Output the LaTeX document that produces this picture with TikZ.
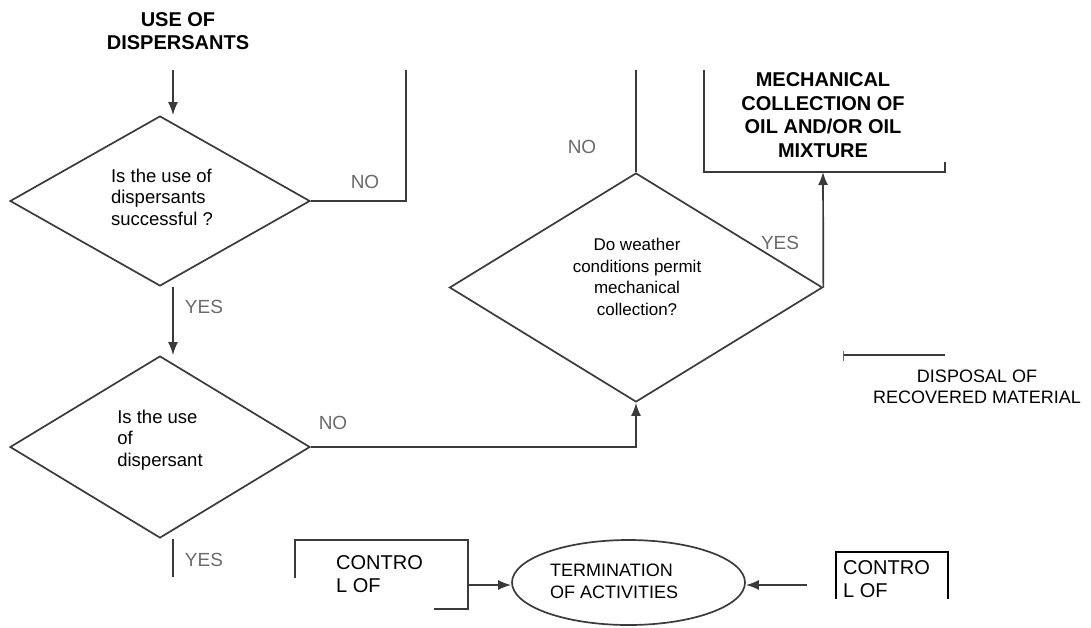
\documentclass[tikz,border=0pt]{standalone}
\usepackage{fontspec}
\setmainfont{Liberation Sans}
\usetikzlibrary{arrows.meta,positioning,shapes.geometric}
\definecolor{Ink}{HTML}{3A3A3A}
\definecolor{Faint}{HTML}{6A6A6A}
\tikzset{
  >={Latex[length=13pt,width=10pt]},
  dec/.style={diamond,draw=Ink,line width=1.7pt,inner sep=0pt,minimum width=300pt,minimum height=170pt},
  qtext/.style={font=\fontsize{18.5}{21.5}\selectfont,inner sep=0pt},
  titletxt/.style={font=\bfseries\fontsize{20}{23.5}\selectfont,align=center,inner sep=0pt},
  bodytxt/.style={font=\fontsize{18}{21.5}\selectfont,inner sep=0pt},
  ctltxt/.style={font=\fontsize{20}{23}\selectfont,inner sep=0pt,align=left,anchor=west},
  ans/.style={font=\fontsize{19}{20}\selectfont,text=Faint,inner sep=0pt},
  flow/.style={->,line width=1.7pt,draw=Ink},
  wire/.style={line width=1.7pt,draw=Ink},
  endstate/.style={ellipse,draw=Ink,line width=1.7pt,minimum width=233pt,minimum height=85pt,inner sep=0pt}
}
\begin{document}
\begin{tikzpicture}[x=1pt,y=-1pt]
  \useasboundingbox (0,0) rectangle (1091,627);

  % decisions
  \node[dec] (d1) at (160,201) {};
  \node[dec,minimum height=182pt] (d2) at (160,447) {};
  \node[dec,minimum width=373pt,minimum height=229pt] (d3) at (636,287.5) {};
  \node[qtext,align=left] (q1) at (162,197) {Is the use of\\dispersants\\successful ?};
  \node[qtext,align=left] (q2) at (160,440) {Is the use\\of\\dispersant};
  \node[qtext,font=\fontsize{17}{21.5}\selectfont,align=center] (q3) at (637,277) {Do weather\\conditions permit\\mechanical\\collection?};

  % headings
  \node[titletxt] (title) at (178,31) {USE OF\\DISPERSANTS};
  \node[titletxt] (mech) at (823,115) {MECHANICAL\\COLLECTION OF\\OIL AND/OR OIL\\MIXTURE};
  \draw[wire] (704,70) -- (704,172) -- (945,172) -- (945,162);

  % connectors
  \coordinate (in1) at (173,70);
  \coordinate (no1) at (406,70);
  \coordinate (no3) at (636,70);
  \coordinate (yes2) at (173,577);
  \coordinate (mechB) at (823,172);
  \draw[flow] (in1) -- (in1 |- d1.north);
  \draw[wire] (d1.east) -| (no1);
  \draw[flow] (d1.south -| in1) -- (d2.north -| in1);
  \draw[flow] (d2.east) -| (d3.south);
  \draw[wire] (d2.south -| in1) -- (yes2);
  \draw[wire] (d3.north) -- (no3);
  \draw[flow] (d3.east) -- (mechB);

  \node[ans] (no1l) at (365,182) {NO};
  \node[ans] (yes1l) at (204,307) {YES};
  \node[ans] (no2l) at (333,423) {NO};
  \node[ans] (yes2l) at (204,560) {YES};
  \node[ans] (no3l) at (582,147) {NO};
  \node[ans] (yes3l) at (780,243) {YES};

  % disposal
  \coordinate (disp) at (843,355);
  \draw[wire] (disp) -- +(102,0);
  \draw[line width=1pt,draw=Faint] ([yshift=4pt]disp) -- ([yshift=-6pt]disp);
  \node[bodytxt,align=center] (dispT) at (977,387) {DISPOSAL OF\\RECOVERED MATERIAL};

  % termination
  \node[endstate] (stop) at (628.5,582.5) {};
  \node[bodytxt,align=left,anchor=west] (stopT) at (550,581.5) {TERMINATION\\OF ACTIVITIES};

  \draw[wire] (295,578) -- (295,540) -- (468,540) -- (468,609) -- (434,609);
  \node[ctltxt] (ctlA) at (336,574) {CONTRO\\L OF};
  \coordinate (ctlAout) at (468,585);
  \draw[flow] (ctlAout) -- (ctlAout -| stop.west);

  \draw[line width=2.5pt] (836,599) -- (836,552) -- (948,552) -- (948,599);
  \begin{scope}
    \clip (836,552) rectangle (948,599);
    \node[ctltxt] (ctlB) at (843,579.5) {CONTRO\\L OF};
  \end{scope}
  \coordinate (ctlBout) at (807,585);
  \draw[flow] (ctlBout) -- (ctlBout -| stop.east);
\end{tikzpicture}
\end{document}
